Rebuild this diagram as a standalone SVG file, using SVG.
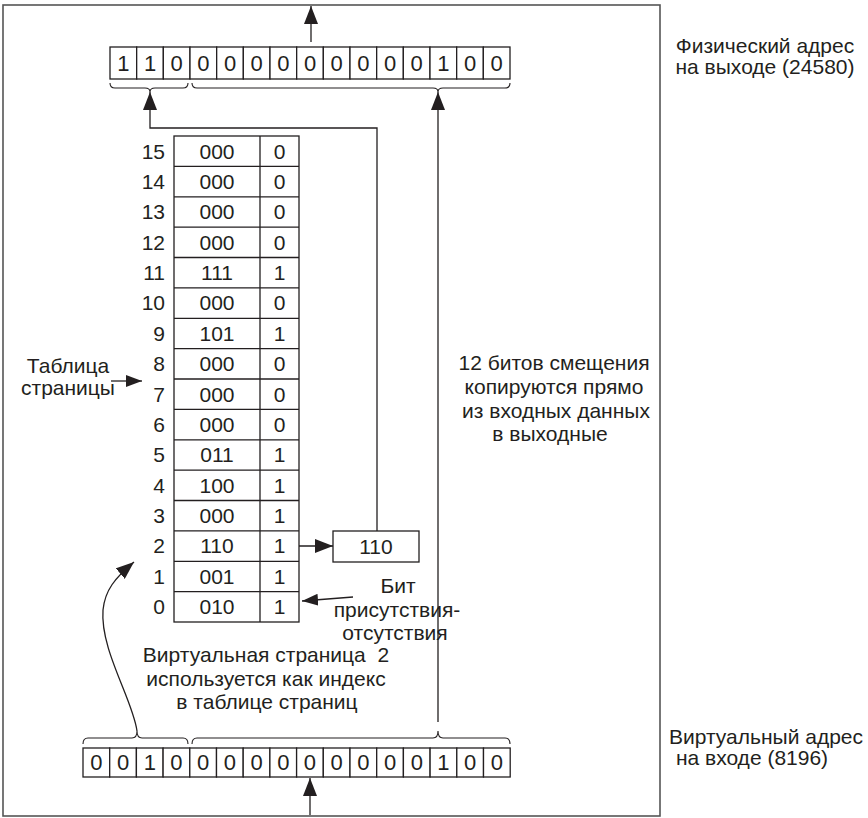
<svg xmlns="http://www.w3.org/2000/svg" width="868" height="818" viewBox="0 0 868 818">
<defs>
<style>
text{font-family:"Liberation Sans",Arial,sans-serif;fill:#231f20}
.bit{font-size:22px;text-anchor:middle}
.tv{font-size:21px;text-anchor:middle}
.num{font-size:21px;text-anchor:end}
.lbl{font-size:21px;text-anchor:middle}
.cell{fill:#fff;stroke:#231f20;stroke-width:1.3}
.ln{fill:none;stroke:#231f20;stroke-width:1.3}
.br{fill:none;stroke:#231f20;stroke-width:1.1}
</style>
<marker id="ah" viewBox="0 0 18 14" refX="18" refY="7" markerWidth="18" markerHeight="14" markerUnits="userSpaceOnUse" orient="auto">
<path d="M0,0 L18,7 L0,14 z" fill="#231f20"/>
</marker>
<marker id="as" viewBox="0 0 16 12" refX="16" refY="6" markerWidth="16" markerHeight="12" markerUnits="userSpaceOnUse" orient="auto">
<path d="M0,0 L16,6 L0,12 z" fill="#231f20"/>
</marker>
</defs>
<rect width="868" height="818" fill="#fff"/>
<rect id="frame" x="3" y="5" width="657" height="811" fill="none" stroke="#555" stroke-width="1.6"/>

<g id="physical-address">
<rect class="cell" x="110" y="47" width="26.67" height="32"/>
<rect class="cell" x="136.67" y="47" width="26.67" height="32"/>
<rect class="cell" x="163.33" y="47" width="26.67" height="32"/>
<rect class="cell" x="190" y="47" width="26.67" height="32"/>
<rect class="cell" x="216.67" y="47" width="26.67" height="32"/>
<rect class="cell" x="243.33" y="47" width="26.67" height="32"/>
<rect class="cell" x="270" y="47" width="26.67" height="32"/>
<rect class="cell" x="296.67" y="47" width="26.67" height="32"/>
<rect class="cell" x="323.33" y="47" width="26.67" height="32"/>
<rect class="cell" x="350" y="47" width="26.67" height="32"/>
<rect class="cell" x="376.67" y="47" width="26.67" height="32"/>
<rect class="cell" x="403.33" y="47" width="26.67" height="32"/>
<rect class="cell" x="430" y="47" width="26.67" height="32"/>
<rect class="cell" x="456.67" y="47" width="26.67" height="32"/>
<rect class="cell" x="483.33" y="47" width="26.67" height="32"/>
<text class="bit" x="123.3" y="71">1</text>
<text class="bit" x="150" y="71">1</text>
<text class="bit" x="176.7" y="71">0</text>
<text class="bit" x="203.3" y="71">0</text>
<text class="bit" x="230" y="71">0</text>
<text class="bit" x="256.7" y="71">0</text>
<text class="bit" x="283.3" y="71">0</text>
<text class="bit" x="310" y="71">0</text>
<text class="bit" x="336.7" y="71">0</text>
<text class="bit" x="363.3" y="71">0</text>
<text class="bit" x="390" y="71">0</text>
<text class="bit" x="416.7" y="71">0</text>
<text class="bit" x="443.3" y="71">1</text>
<text class="bit" x="470" y="71">0</text>
<text class="bit" x="496.7" y="71">0</text>
<path class="br" d="M110,83 Q110,88 115,88 L145,88 Q150,88 150,92 Q150,88 155,88 L183,88 Q188,88 188,83"/>
<path class="br" d="M192,83 Q192,88 197,88 L433,88 Q438,88 438,92 Q438,88 443,88 L505,88 Q510,88 510,83"/>
</g>

<g id="virtual-address">
<rect class="cell" x="83" y="748" width="26.7" height="29"/>
<rect class="cell" x="109.7" y="748" width="26.7" height="29"/>
<rect class="cell" x="136.4" y="748" width="26.7" height="29"/>
<rect class="cell" x="163.1" y="748" width="26.7" height="29"/>
<rect class="cell" x="189.8" y="748" width="26.7" height="29"/>
<rect class="cell" x="216.5" y="748" width="26.7" height="29"/>
<rect class="cell" x="243.2" y="748" width="26.7" height="29"/>
<rect class="cell" x="269.9" y="748" width="26.7" height="29"/>
<rect class="cell" x="296.6" y="748" width="26.7" height="29"/>
<rect class="cell" x="323.3" y="748" width="26.7" height="29"/>
<rect class="cell" x="350" y="748" width="26.7" height="29"/>
<rect class="cell" x="376.7" y="748" width="26.7" height="29"/>
<rect class="cell" x="403.4" y="748" width="26.7" height="29"/>
<rect class="cell" x="430.1" y="748" width="26.7" height="29"/>
<rect class="cell" x="456.8" y="748" width="26.7" height="29"/>
<rect class="cell" x="483.5" y="748" width="26.7" height="29"/>
<text class="bit" x="96.35" y="770">0</text>
<text class="bit" x="123.05" y="770">0</text>
<text class="bit" x="149.75" y="770">1</text>
<text class="bit" x="176.45" y="770">0</text>
<text class="bit" x="203.15" y="770">0</text>
<text class="bit" x="229.85" y="770">0</text>
<text class="bit" x="256.55" y="770">0</text>
<text class="bit" x="283.25" y="770">0</text>
<text class="bit" x="309.95" y="770">0</text>
<text class="bit" x="336.65" y="770">0</text>
<text class="bit" x="363.35" y="770">0</text>
<text class="bit" x="390.05" y="770">0</text>
<text class="bit" x="416.75" y="770">0</text>
<text class="bit" x="443.45" y="770">1</text>
<text class="bit" x="470.15" y="770">0</text>
<text class="bit" x="496.85" y="770">0</text>
<path class="br" d="M83,744 Q83,738 88,738 L132,738 Q137,738 137,731 Q137,738 142,738 L183,738 Q188,738 188,744"/>
<path class="br" d="M192,744 Q192,738 197,738 L433,738 Q438,738 438,731 Q438,738 443,738 L505,738 Q510,738 510,744"/>
</g>

<g id="page-table">
<rect class="cell" x="174" y="136" width="125" height="486"/>
<path class="ln" d="M260,136 V622 M174,166.4 H299 M174,196.8 H299 M174,227.1 H299 M174,257.5 H299 M174,287.9 H299 M174,318.3 H299 M174,348.6 H299 M174,379 H299 M174,409.4 H299 M174,439.8 H299 M174,470.1 H299 M174,500.5 H299 M174,530.9 H299 M174,561.3 H299 M174,591.6 H299"/>
<text class="num" x="165" y="158.5">15</text><text class="tv" x="217" y="158.5">000</text><text class="tv" x="279.5" y="158.5">0</text>
<text class="num" x="165" y="188.9">14</text><text class="tv" x="217" y="188.9">000</text><text class="tv" x="279.5" y="188.9">0</text>
<text class="num" x="165" y="219.3">13</text><text class="tv" x="217" y="219.3">000</text><text class="tv" x="279.5" y="219.3">0</text>
<text class="num" x="165" y="249.6">12</text><text class="tv" x="217" y="249.6">000</text><text class="tv" x="279.5" y="249.6">0</text>
<text class="num" x="165" y="280">11</text><text class="tv" x="217" y="280">111</text><text class="tv" x="279.5" y="280">1</text>
<text class="num" x="165" y="310.4">10</text><text class="tv" x="217" y="310.4">000</text><text class="tv" x="279.5" y="310.4">0</text>
<text class="num" x="165" y="340.8">9</text><text class="tv" x="217" y="340.8">101</text><text class="tv" x="279.5" y="340.8">1</text>
<text class="num" x="165" y="371.1">8</text><text class="tv" x="217" y="371.1">000</text><text class="tv" x="279.5" y="371.1">0</text>
<text class="num" x="165" y="401.5">7</text><text class="tv" x="217" y="401.5">000</text><text class="tv" x="279.5" y="401.5">0</text>
<text class="num" x="165" y="431.9">6</text><text class="tv" x="217" y="431.9">000</text><text class="tv" x="279.5" y="431.9">0</text>
<text class="num" x="165" y="462.3">5</text><text class="tv" x="217" y="462.3">011</text><text class="tv" x="279.5" y="462.3">1</text>
<text class="num" x="165" y="492.6">4</text><text class="tv" x="217" y="492.6">100</text><text class="tv" x="279.5" y="492.6">1</text>
<text class="num" x="165" y="523">3</text><text class="tv" x="217" y="523">000</text><text class="tv" x="279.5" y="523">1</text>
<text class="num" x="165" y="553.4">2</text><text class="tv" x="217" y="553.4">110</text><text class="tv" x="279.5" y="553.4">1</text>
<text class="num" x="165" y="583.8">1</text><text class="tv" x="217" y="583.8">001</text><text class="tv" x="279.5" y="583.8">1</text>
<text class="num" x="165" y="614.1">0</text><text class="tv" x="217" y="614.1">010</text><text class="tv" x="279.5" y="614.1">1</text>
</g>

<g id="frame-number">
<rect class="cell" x="333" y="531" width="86" height="31"/>
<text class="tv" x="376" y="554">110</text>
</g>

<g id="labels">
<text class="lbl" x="765" y="53">Физический адрес</text>
<text class="lbl" x="765" y="74">на выходе (24580)</text>
<text class="lbl" x="766" y="744">Виртуальный адрес</text>
<text class="lbl" x="752" y="765">на входе (8196)</text>
<text class="lbl" x="68" y="373">Таблица</text>
<text class="lbl" x="68" y="395">страницы</text>
<text class="lbl" x="554" y="370">12 битов смещения</text>
<text class="lbl" x="554" y="394">копируются прямо</text>
<text class="lbl" x="556" y="418">из входных данных</text>
<text class="lbl" x="550" y="441">в выходные</text>
<text class="lbl" x="398" y="593">Бит</text>
<text class="lbl" x="397" y="617">присутствия-</text>
<text class="lbl" x="395" y="640">отсутствия</text>
<text class="lbl" x="266" y="662" xml:space="preserve">Виртуальная страница  2</text>
<text class="lbl" x="266" y="686">используется как индекс</text>
<text class="lbl" x="267" y="709">в таблице страниц</text>
</g>

<g id="connectors">
<line class="ln" x1="311" y1="42" x2="311" y2="6" marker-end="url(#ah)"/>
<path class="ln" d="M377,531 V128 H150 V92" marker-end="url(#ah)"/>
<line class="ln" x1="438" y1="722" x2="438" y2="92" marker-end="url(#ah)"/>
<line class="ln" x1="299" y1="546" x2="333" y2="546" marker-end="url(#ah)"/>
<line class="ln" x1="310" y1="815" x2="310" y2="778" marker-end="url(#ah)"/>
<line class="ln" x1="111" y1="381" x2="142" y2="381" marker-end="url(#as)"/>
<line class="ln" x1="353" y1="597" x2="302" y2="601" marker-end="url(#as)"/>
<path class="ln" d="M137,731 C133,700 100,650 103,610 C105,590 115,578 134,562" marker-end="url(#ah)"/>
</g>
</svg>
